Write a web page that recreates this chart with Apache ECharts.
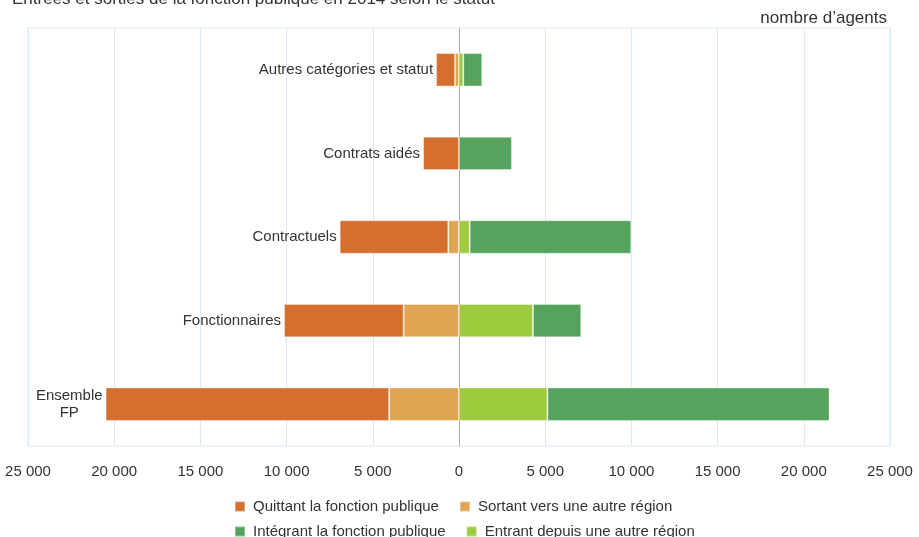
<!DOCTYPE html>
<html><head><meta charset="utf-8">
<script src="https://cdn.jsdelivr.net/npm/echarts@6/dist/echarts.min.js"></script>
<style>html,body{margin:0;padding:0;background:#fff}#c{width:919px;height:537px}</style>
</head><body><div id="c"></div>
<script>
const categories = ['Ensemble\nFP', 'Fonctionnaires', 'Contractuels', 'Contrats aidés', 'Autres catégories et statut'];
const quittant = [-16450, -6940, -6300, -2090, -1100];
const sortant = [-4050, -3210, -620, 0, -230];
const integrant = [16360, 2800, 9370, 3070, 1100];
const entrant = [5130, 4290, 620, 0, 250];
const xTicks = { min: -25000, max: 25000, interval: 5000 };

const font = 'Liberation Sans, Arial, sans-serif';
const fmt = v => { const a = Math.abs(v); return a >= 1000 ? Math.floor(a/1000) + ' ' + String(a%1000).padStart(3,'0') : String(a); };
const chart = echarts.init(document.getElementById('c'));
const barBorder = { borderColor: 'rgba(255,255,255,0.35)', borderWidth: 1 };
const legendText = { fontSize: 15, color: '#333', fontFamily: font, padding: [0, 0, 0, 3] };
chart.setOption({
  animation: false,
  textStyle: { fontFamily: font },
  title: { text: 'Entrées et sorties de la fonction publique en 2014 selon le statut', left: 7, top: -14,
    textStyle: { fontSize: 17, fontWeight: 'normal', color: '#333', fontFamily: font } },
  graphic: [{ type: 'text', right: 32, top: 10, style: { text: 'nombre d\u2019agents', fontSize: 17, fill: '#333', fontFamily: font } }],
  legend: [
    { data: ['Quittant la fonction publique', 'Sortant vers une autre région'], left: 229, top: 494, itemWidth: 10, itemHeight: 10, itemGap: 20, icon: 'rect',
      textStyle: legendText },
    { data: ['Intégrant la fonction publique', 'Entrant depuis une autre région'], left: 229, top: 519, itemWidth: 10, itemHeight: 10, itemGap: 20, icon: 'rect',
      textStyle: legendText }
  ],
  grid: { left: 28, right: 29, top: 28, bottom: 91, show: true, borderColor: '#dbe8f5', borderWidth: 1 },
  xAxis: { type: 'value', min: xTicks.min, max: xTicks.max, interval: xTicks.interval,
    axisLine: { show: false }, axisTick: { show: false },
    splitLine: { lineStyle: { color: '#dbe8f5', width: 1 } },
    axisLabel: { formatter: fmt, margin: 18, fontSize: 15, color: '#333', fontFamily: font } },
  yAxis: { type: 'category', data: categories,
    axisLine: { show: true, onZero: true, lineStyle: { color: '#aaaaaa', width: 1 } },
    axisTick: { show: false }, axisLabel: { show: false } },
  series: [
    { name: 'Sortant vers une autre région', type: 'bar', stack: 'a', data: sortant, barWidth: '40%',
      itemStyle: Object.assign({ color: '#e0a552' }, barBorder) },
    { name: 'Quittant la fonction publique', type: 'bar', stack: 'a', data: quittant, barWidth: '40%',
      itemStyle: Object.assign({ color: '#d46f2f' }, barBorder),
      label: { show: true, position: 'left', distance: 3, color: '#333', fontSize: 15, fontFamily: font,
        formatter: p => '{c|' + p.name + '}',
        rich: { c: { align: 'center', fontSize: 15, color: '#333', fontFamily: font, lineHeight: 17 } } } },
    { name: 'Entrant depuis une autre région', type: 'bar', stack: 'a', data: entrant, barWidth: '40%',
      itemStyle: Object.assign({ color: '#9ecb3e' }, barBorder) },
    { name: 'Intégrant la fonction publique', type: 'bar', stack: 'a', data: integrant, barWidth: '40%',
      itemStyle: Object.assign({ color: '#55a35d' }, barBorder) }
  ]
});
</script></body></html>
